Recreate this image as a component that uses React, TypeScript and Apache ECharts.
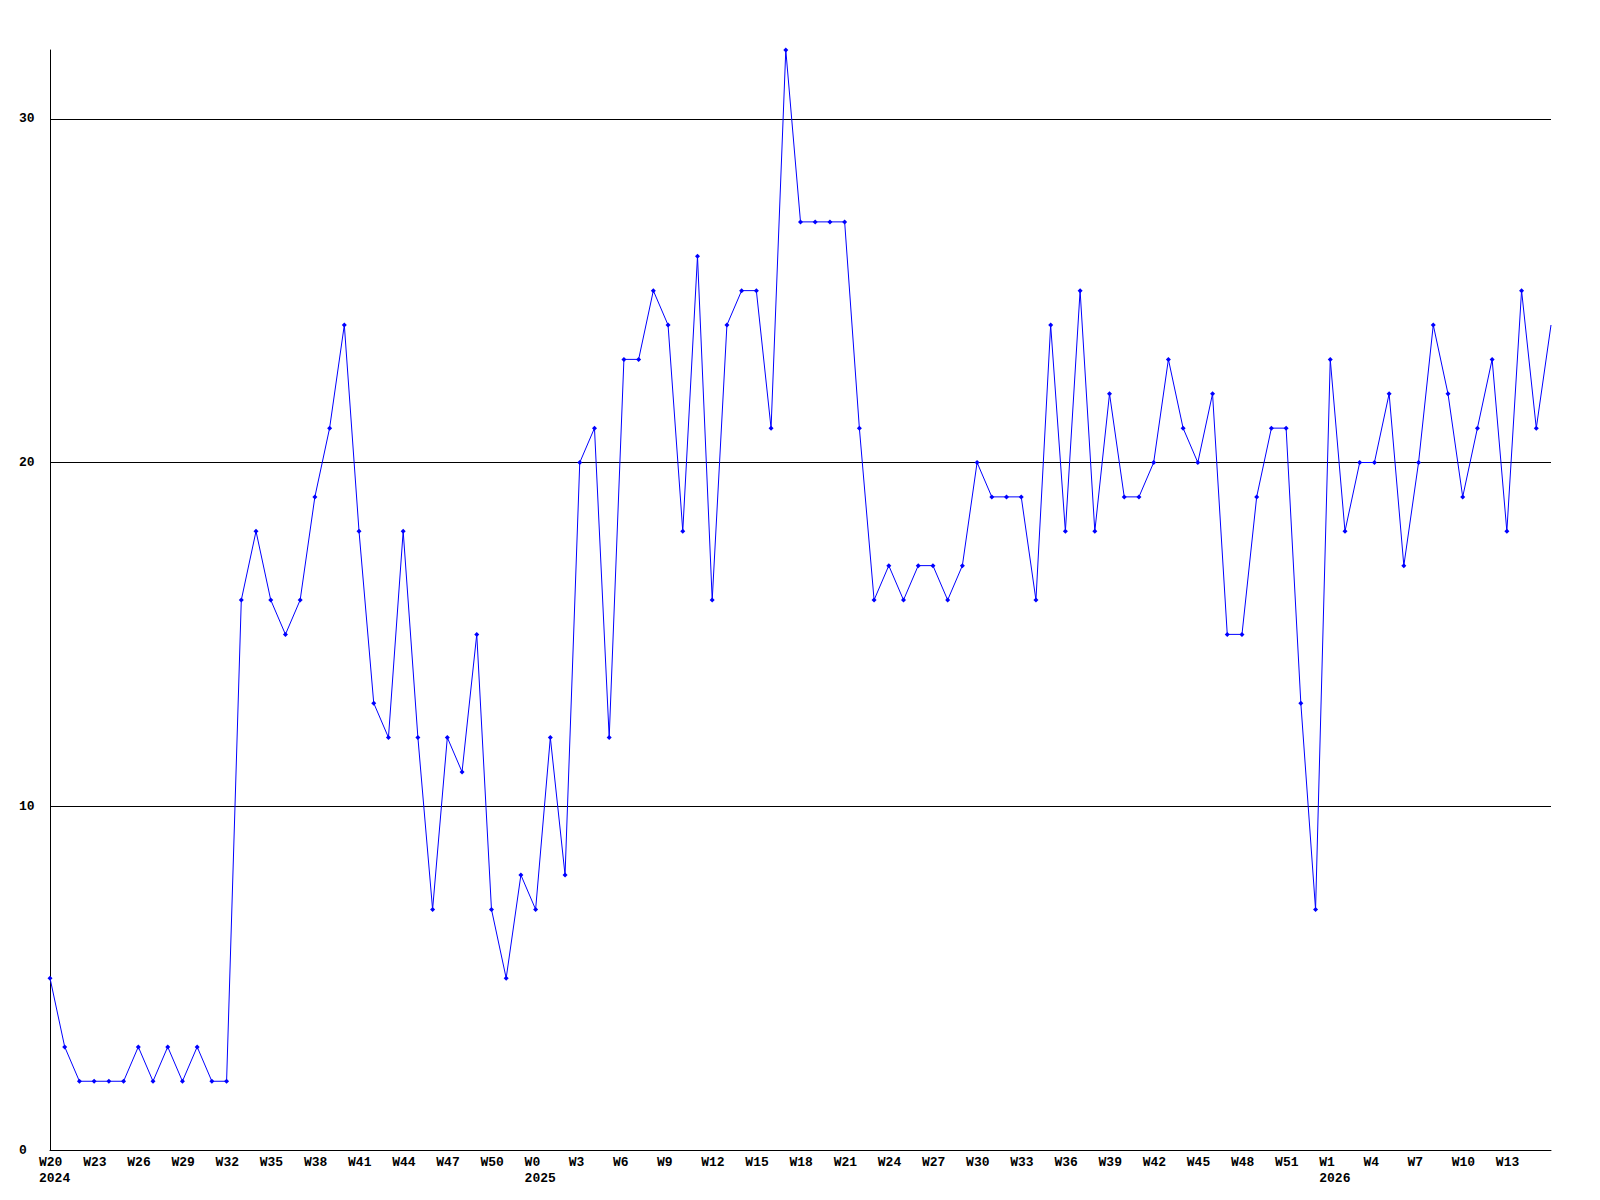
import React, { useEffect, useRef } from "react";
import * as echarts from "echarts";

const weeks2024 = [20,21,22,23,24,25,26,27,28,29,30,31,32,33,34,35,36,37,38,39,40,41,42,43,44,45,46,47,48,49,50,51,52];
const weeks2025 = [0,1,2,3,4,5,6,7,8,9,10,11,12,13,14,15,16,17,18,19,20,21,22,23,24,25,26,27,28,29,30,31,32,33,34,35,36,37,38,39,40,41,42,43,44,45,46,47,48,49,50,51,52];
const weeks2026 = [0,1,2,3,4,5,6,7,8,9,10,11,12,13,14,15,16];

const values = [
  5, 3, 2, 2, 2, 2, 3, 2, 3, 2, 3, 2, 2, 16, 18, 16, 15, 16, 19, 21,
  24, 18, 13, 12, 18, 12, 7, 12, 11, 15, 7, 5, 8, 7, 12, 8, 20, 21, 12, 23,
  23, 25, 24, 18, 26, 16, 24, 25, 25, 21, 32, 27, 27, 27, 27, 21, 16, 17, 16, 17,
  17, 16, 17, 20, 19, 19, 19, 16, 24, 18, 25, 18, 22, 19, 19, 20, 23, 21, 20, 22,
  15, 15, 19, 21, 21, 13, 7, 23, 18, 20, 20, 22, 17, 20, 24, 22, 19, 21, 23, 18,
  25, 21, 24,
];

const yTicks = [0, 10, 20, 30];

export default function App() {
  const ref = useRef<HTMLDivElement>(null);
  useEffect(() => {
    if (!ref.current) return;
    const chart = echarts.init(ref.current, undefined, { renderer: "svg" });
    const cats: string[] = [];
    const years: string[] = [];
    weeks2024.forEach((w) => { cats.push("W" + w); years.push("2024"); });
    weeks2025.forEach((w) => { cats.push("W" + w); years.push("2025"); });
    weeks2026.forEach((w) => { cats.push("W" + w); years.push("2026"); });
    const lastIdx = cats.length - 1;
    const seriesData = values.map((v, i) => (i === lastIdx ? { value: v, symbol: "none" } : v));
    const font = { fontFamily: "Liberation Mono", fontWeight: "bold" as const, fontSize: 13, color: "#000" };
    chart.setOption({
      animation: false,
      backgroundColor: "#fff",
      grid: { left: 50, right: 49, top: 50, bottom: 50, containLabel: false },
      xAxis: {
        type: "category",
        data: cats,
        boundaryGap: false,
        axisLine: { lineStyle: { color: "#000", width: 1 } },
        axisTick: { show: false },
        splitLine: { show: false },
        axisLabel: {
          ...font,
          interval: 2,
          align: "left",
          padding: [0, 0, 0, -11],
          margin: 4,
          lineHeight: 16,
          formatter: (value: string, index: number) => {
            if (index === lastIdx) return "";
            let firstLabeled = true;
            for (let j = index - 3; j >= 0; j -= 3) {
              if (years[j] === years[index]) { firstLabeled = false; break; }
            }
            return firstLabeled ? value + "\n" + years[index] : value;
          },
        },
      },
      yAxis: {
        type: "value",
        min: 0,
        max: 32,
        interval: 10,
        axisLine: { show: true, lineStyle: { color: "#000", width: 1 } },
        axisTick: { show: false },
        splitLine: { show: true, showMaxLine: false, showMinLine: false, lineStyle: { color: "#000", width: 1 } },
        axisLabel: {
          ...font,
          align: "left",
          margin: 31,
          showMaxLabel: false,
          formatter: (v: number) => (yTicks.includes(v) ? String(v) : ""),
        },
      },
      series: [
        {
          type: "line",
          data: seriesData,
          lineStyle: { color: "#0000ff", width: 1 },
          itemStyle: { color: "#0000ff" },
          symbol: "diamond",
          symbolSize: 5,
          showSymbol: true,
        },
      ],
    });
    return () => chart.dispose();
  }, []);
  return <div ref={ref} style={{ position: "absolute", left: 0, top: 0, width: 1600, height: 1200 }} />;
}
